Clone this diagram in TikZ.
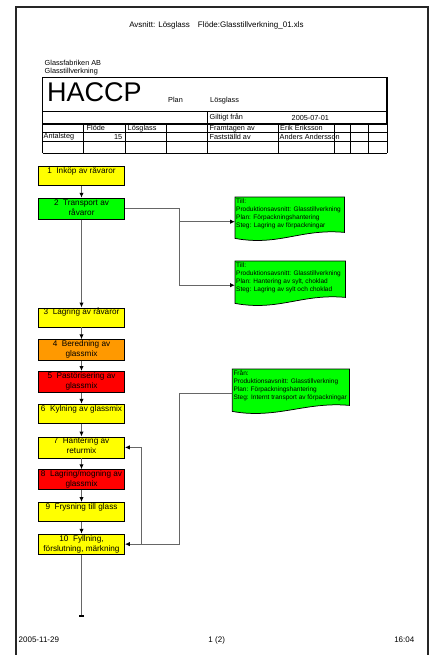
\documentclass[tikz,border=0pt]{standalone}
\usepackage{fontspec}
\setmainfont{Liberation Sans}
\usetikzlibrary{positioning, arrows.meta, backgrounds}
\definecolor{StepYellow}{HTML}{FFFF00}
\definecolor{StepGreen}{HTML}{00FF00}
\definecolor{StepOrange}{HTML}{FF9900}
\definecolor{StepRed}{HTML}{FF0000}
\definecolor{LinkGray}{HTML}{666666}
\newcommand{\tabfont}{\fontsize{7.3}{8.5}\selectfont}
\newcommand{\steptext}[2]{\begin{minipage}[t][#1]{86pt}\centering\fontsize{8.2}{10}\selectfont\strut #2\end{minipage}}
\newcommand{\doctext}[3]{\begin{minipage}[t][#1]{#2}\raggedright\fontsize{6.5}{8}\selectfont\strut #3\end{minipage}}

\begin{document}
\begin{tikzpicture}[x=1pt, y=-1pt,
			every node/.style={inner sep=0pt, font=\tabfont},
			stepbox/.style={draw=black, line width=0.75pt, inner sep=0pt},
			docbox/.style={inner xsep=1pt, inner ysep=1pt, anchor=north west},
			conn/.style={draw=LinkGray, line width=1.1pt, -{Latex[black,length=5pt,width=4.5pt]}},
			tablethick/.style={line width=1.3pt},
			tablethin/.style={line width=0.55pt}
		]
		\useasboundingbox (0,0) rectangle (434,655);
		\draw[line width=1.5pt, black!85] (16,660) -- (16,7) -- (428,7) -- (428,660);
		\node (header) [font=\fontsize{8}{10}\selectfont] at (216.5,25) {Avsnitt: Lösglass\hspace{8pt}Flöde:Glasstillverkning\_01.xls};
		\node (firm) [anchor=west] at (44.5,63) {Glassfabriken AB};
		\node (dept) [anchor=west] at (44.5,71.5) {Glasstillverkning};
		\draw[tablethick] (42.7,77.3) rectangle (387,124);
		\draw[tablethick] (42.7,111.7) -- (387,111.7);
		\draw[tablethick] (207.7,111.7) -- (207.7,124);
		\foreach \y in {132.5,141.5,153}
			\draw[tablethin] (42.7,\y) -- (387,\y);
		\foreach \x in {42.7,83.3,125,166.7,207.7,278.3,334,350,368.3,387}
			\draw[tablethin] (\x,124) -- (\x,153);
		\node (haccp) [anchor=base west, font=\fontsize{27}{27}\selectfont] at (47,101.7) {HACCP};
		\node (planlbl) [anchor=base west] at (168,102.5) {Plan};
		\node (planval) [anchor=base west] at (210,102.5) {Lösglass};
		\node (validlbl) [anchor=west] at (209.5,117.8) {Giltigt från};
		\node (validval) [anchor=west] at (291.5,117.8) {2005-07-01};
		\node (flowlbl) [anchor=west] at (86.5,128.3) {Flöde};
		\node (flowval) [anchor=west] at (127.5,128.3) {Lösglass};
		\node (madelbl) [anchor=west] at (209.5,128.3) {Framtagen av};
		\node (madeval) [anchor=west] at (280,128.3) {Erik Eriksson};
		\node (countlbl) [anchor=west] at (43.5,137) {Antalsteg};
		\node (countval) [anchor=east] at (122.5,137) {15};
		\node (setlbl) [anchor=west] at (209.5,137) {Fastställd av};
		\node (setval) [anchor=west] at (279.5,137) {Anders Andersson};

		\node (b1) [stepbox, fill=StepYellow, anchor=north] at (81.5,166) {\steptext{19pt}{1\ \ Inköp av råvaror}};
		\node (b2) [stepbox, fill=StepGreen, below=12pt of b1] {\steptext{21pt}{2\ \ Transport av\\råvaror}};
		\node (b3) [stepbox, fill=StepYellow, below=88pt of b2] {\steptext{19pt}{3\ \ Lagring av råvaror}};
		\node (b4) [stepbox, fill=StepOrange, below=12pt of b3] {\steptext{21pt}{4\ \ Beredning av\\glassmix}};
		\node (b5) [stepbox, fill=StepRed, below=10pt of b4] {\steptext{21pt}{5\ \ Pastörisering av\\glassmix}};
		\node (b6) [stepbox, fill=StepYellow, below=11pt of b5] {\steptext{19pt}{6\ \ Kylning av glassmix}};
		\node (b7) [stepbox, fill=StepYellow, below=13pt of b6] {\steptext{21pt}{7\ \ Hantering av\\returmix}};
		\node (b8) [stepbox, fill=StepRed, below=11pt of b7] {\steptext{20pt}{8\ \ Lagring/mogning av\\glassmix}};
		\node (b9) [stepbox, fill=StepYellow, below=12pt of b8] {\steptext{19pt}{9\ \ Frysning till glass}};
		\node (b10) [stepbox, fill=StepYellow, below=12pt of b9] {\steptext{20pt}{10\ \ Fyllning,\\förslutning, märkning}};

		\node (doca) [docbox] at (235,197) {\doctext{33pt}{107pt}{Till:\\Produktionsavsnitt: Glasstillverkning\\Plan: Förpackningshantering\\Steg: Lagring av förpackningar}};
		\node (docb) [docbox] at (235,261) {\doctext{34pt}{108pt}{Till:\\Produktionsavsnitt: Glasstillverkning\\Plan: Hantering av sylt, choklad\\Steg: Lagring av sylt och choklad}};
		\node (docc) [docbox] at (232.3,369) {\doctext{34pt}{114.7pt}{Från:\\Produktionsavsnitt: Glasstillverkning\\Plan: Förpackningshantering\\Steg: Internt transport av förpackningar}};
		\begin{scope}[on background layer]
			\foreach \doc in {doca,docb,docc}
				\draw[fill=StepGreen, line width=0.75pt] (\doc.north west) -- (\doc.north east) -- (\doc.south east) .. controls +(-44,-4) and +(44,8) .. ([yshift=-6pt]\doc.south west) -- cycle;
		\end{scope}

		\coordinate (jointo) at (179.3,0);
		\coordinate (joinfrom) at (179.3,0);
		\coordinate (joinback) at (141.7,0);
		\coordinate (flowend) at (81.5,617);
		\foreach \from/\to in {b1/b2,b2/b3,b3/b4,b4/b5,b5/b6,b6/b7,b7/b8,b8/b9,b9/b10}
			\draw[conn] (\from) -- (\to);
		\draw[conn, -{Bar[black,width=5pt,line width=1.6pt]}] (b10) -- (flowend);
		\draw[conn] (b2.east) -- (b2.east -| jointo) |- ([yshift=-7pt]doca.west);
		\draw[conn] (b2.east -| jointo) |- ([yshift=-6pt]docb.west);
		\draw[conn] ([yshift=-6pt]docc.west) -| (joinfrom |- b10.east) -- (b10.east);
		\draw[conn] (joinback |- b10.east) |- (b7.east);

		\node (date) [anchor=west, font=\fontsize{8}{10}\selectfont] at (18.5,640) {2005-11-29};
		\node (page) [font=\fontsize{8}{10}\selectfont] at (216.7,640) {1 (2)};
		\node (time) [anchor=east, font=\fontsize{8}{10}\selectfont] at (414.5,640) {16:04};
	\end{tikzpicture}
\end{document}
